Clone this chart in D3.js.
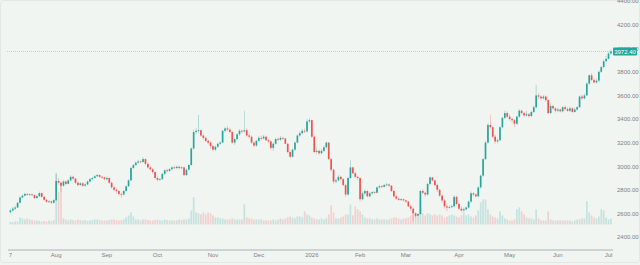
<!DOCTYPE html>
<html>
<head>
  <meta charset="UTF-8">
  <style>
    body { margin: 0; background: #f1f5f2; }
    svg { display: block; }
    text { font-family: "Liberation Sans", Arial, sans-serif; }
  </style>
</head>
<body>
<svg></svg>
<script src="https://d3js.org/d3.v7.min.js"></script>
<script>

    let width = 640;
    let height = 265;

    // daily candles, Jul 7 2025 .. Jul 2 2026 (open = previous close)
    let firstOpen = 2610;
    let closes = [
      2625, 2640, 2650, 2690, 2735, 2750, 2765, 2758, 2762, 2755,
      2730, 2745, 2772, 2740, 2715, 2698, 2702, 2690, 2712, 2875,
      2860, 2835, 2870, 2850, 2880, 2910, 2895, 2860, 2840, 2855,
      2835, 2845, 2870, 2890, 2900, 2915, 2925, 2910, 2905, 2890,
      2900, 2860, 2820, 2800, 2790, 2765, 2760, 2790, 2830, 2880,
      2985, 3010, 3030, 3040, 3035, 3060, 3020, 2990, 2975, 2950,
      2900, 2885, 2890, 2935, 2965, 2960, 2975, 2990, 2985, 2995,
      2985, 2990, 2925, 2970, 3010, 3150, 3290, 3300, 3305, 3260,
      3240, 3215, 3200, 3170, 3140, 3165, 3190, 3200, 3300, 3320,
      3310, 3290, 3200, 3230, 3270, 3300, 3295, 3305, 3260, 3250,
      3200, 3175, 3215, 3240, 3235, 3250, 3220, 3210, 3155, 3190,
      3230, 3225, 3240, 3235, 3190, 3120, 3080, 3140, 3200, 3260,
      3280, 3300, 3295, 3380, 3390, 3250, 3120, 3130, 3110, 3130,
      3160, 3200, 3060, 2970, 2870, 2880, 2910, 2890, 2840, 2760,
      2900, 2990, 2940, 2910, 2900, 2720, 2770, 2790, 2745, 2770,
      2780, 2775, 2820, 2830, 2825, 2840, 2845, 2835, 2790, 2745,
      2725, 2715, 2720, 2710, 2700, 2660, 2640, 2600, 2580, 2595,
      2790, 2775, 2760, 2850, 2905, 2880, 2840, 2800, 2750, 2710,
      2660, 2650, 2655, 2660, 2740, 2680, 2640, 2625, 2635, 2650,
      2700, 2770, 2760, 2745, 2820, 2920, 3060, 3200, 3350, 3330,
      3250, 3210, 3220, 3330, 3410, 3450, 3420, 3400, 3390, 3360,
      3420, 3470, 3450, 3430, 3440, 3425, 3460, 3500, 3600, 3590,
      3575, 3590, 3560, 3450, 3510, 3490, 3470, 3480, 3465, 3500,
      3485, 3470, 3490, 3460, 3480, 3500, 3590, 3575, 3600, 3700,
      3770, 3730, 3710, 3725, 3800, 3840, 3890, 3910, 3955, 3972.4
    ];
    let highs = [
      2640, 2655, 2665, 2700, 2745, 2760, 2775, 2772, 2770, 2768,
      2760, 2755, 2785, 2778, 2745, 2720, 2712, 2708, 2720, 2945,
      2900, 2870, 2885, 2880, 2890, 2925, 2920, 2900, 2870, 2865,
      2865, 2855, 2880, 2900, 2910, 2925, 2935, 2930, 2918, 2912,
      2915, 2905, 2870, 2830, 2810, 2795, 2775, 2800, 2840, 2890,
      2995, 3020, 3040, 3055, 3050, 3075, 3065, 3030, 3000, 2985,
      2960, 2915, 2900, 2945, 2975, 2980, 2985, 3000, 3005, 3005,
      3005, 3000, 2995, 2980, 3020, 3160, 3310, 3320, 3435, 3310,
      3270, 3250, 3225, 3210, 3180, 3175, 3200, 3210, 3310, 3330,
      3340, 3325, 3300, 3240, 3280, 3315, 3310, 3470, 3320, 3275,
      3260, 3210, 3225, 3255, 3260, 3265, 3260, 3230, 3220, 3200,
      3240, 3245, 3255, 3250, 3240, 3195, 3125, 3150, 3210, 3275,
      3295, 3315, 3320, 3400, 3410, 3395, 3260, 3160, 3140, 3145,
      3175, 3210, 3205, 3070, 2980, 2895, 2925, 2920, 2900, 2850,
      2910, 3050, 2995, 2950, 2920, 2905, 2785, 2805, 2800, 2780,
      2790, 2790, 2830, 2845, 2840, 2850, 2860, 2855, 2840, 2800,
      2750, 2735, 2730, 2725, 2715, 2705, 2670, 2650, 2610, 2605,
      2800, 2805, 2785, 2860, 2915, 2910, 2885, 2850, 2810, 2760,
      2720, 2680, 2670, 2675, 2755, 2750, 2690, 2660, 2650, 2660,
      2710, 2785, 2780, 2770, 2830, 2930, 3070, 3215, 3365, 3435,
      3340, 3265, 3235, 3340, 3420, 3470, 3465, 3440, 3410, 3400,
      3430, 3485, 3480, 3460, 3470, 3450, 3470, 3515, 3690, 3620,
      3600, 3605, 3600, 3570, 3525, 3520, 3500, 3495, 3490, 3510,
      3515, 3500, 3505, 3500, 3495, 3510, 3600, 3605, 3615, 3710,
      3780, 3790, 3745, 3740, 3810, 3850, 3905, 3935, 3970, 3990
    ];
    let lows = [
      2600, 2615, 2630, 2645, 2685, 2728, 2745, 2750, 2750, 2745,
      2722, 2725, 2740, 2735, 2705, 2690, 2690, 2680, 2685, 2705,
      2845, 2780, 2825, 2840, 2845, 2870, 2885, 2850, 2830, 2835,
      2825, 2825, 2840, 2862, 2885, 2895, 2908, 2900, 2895, 2880,
      2880, 2850, 2810, 2790, 2770, 2750, 2730, 2750, 2785, 2825,
      2875, 2975, 3000, 3020, 3025, 3030, 3010, 2980, 2960, 2940,
      2890, 2870, 2875, 2885, 2925, 2945, 2950, 2965, 2975, 2975,
      2975, 2970, 2915, 2915, 2965, 3005, 3140, 3270, 3280, 3250,
      3225, 3205, 3185, 3150, 3125, 3130, 3155, 3180, 3195, 3285,
      3295, 3280, 3190, 3180, 3220, 3260, 3280, 3285, 3250, 3235,
      3190, 3160, 3165, 3205, 3220, 3225, 3210, 3195, 3140, 3130,
      3180, 3215, 3215, 3225, 3185, 3110, 3070, 3075, 3130, 3195,
      3250, 3270, 3280, 3285, 3365, 3240, 3110, 3100, 3095, 3100,
      3120, 3150, 3050, 2955, 2850, 2855, 2870, 2880, 2830, 2740,
      2750, 2890, 2930, 2900, 2880, 2700, 2710, 2755, 2735, 2735,
      2760, 2765, 2770, 2810, 2815, 2820, 2830, 2825, 2780, 2735,
      2715, 2705, 2705, 2700, 2690, 2650, 2620, 2530, 2565, 2570,
      2585, 2765, 2740, 2750, 2840, 2870, 2830, 2780, 2740, 2690,
      2640, 2620, 2640, 2645, 2650, 2670, 2625, 2610, 2615, 2625,
      2640, 2690, 2745, 2735, 2740, 2810, 2910, 3050, 3190, 3310,
      3235, 3190, 3195, 3215, 3320, 3400, 3410, 3385, 3370, 3330,
      3350, 3410, 3440, 3415, 3420, 3410, 3415, 3450, 3490, 3570,
      3560, 3565, 3545, 3440, 3445, 3480, 3455, 3460, 3455, 3455,
      3470, 3460, 3460, 3450, 3455, 3470, 3495, 3565, 3565, 3595,
      3690, 3720, 3700, 3700, 3715, 3790, 3830, 3880, 3905, 3945
    ];
    let volumes = [
      5, 5, 6, 6, 14, 12, 10, 12, 10, 9,
      8, 8, 7, 6, 7, 6, 8, 7, 9, 100,
      64, 80, 12, 10, 8, 10, 9, 8, 10, 9,
      8, 9, 7, 8, 9, 10, 10, 9, 8, 8,
      8, 9, 10, 10, 9, 8, 9, 10, 14, 18,
      24, 16, 10, 10, 8, 10, 10, 9, 8, 8,
      9, 10, 8, 8, 10, 9, 8, 8, 8, 8,
      10, 9, 10, 10, 12, 28, 54, 24, 22, 20,
      24, 20, 24, 22, 18, 14, 14, 12, 12, 10,
      10, 10, 12, 10, 10, 10, 10, 40, 14, 12,
      12, 10, 10, 10, 10, 8, 8, 8, 8, 10,
      8, 10, 12, 10, 12, 14, 16, 14, 12, 16,
      16, 14, 26, 20, 18, 14, 12, 10, 10, 12,
      10, 12, 20, 38, 24, 12, 12, 14, 16, 20,
      20, 40, 18, 36, 30, 26, 20, 14, 12, 12,
      10, 10, 12, 10, 10, 10, 10, 10, 12, 14,
      14, 12, 10, 12, 12, 14, 18, 20, 18, 16,
      50, 22, 18, 22, 20, 18, 20, 18, 20, 18,
      14, 16, 18, 20, 18, 16, 14, 18, 24, 18,
      20, 16, 14, 18, 28, 44, 50, 50, 30, 20,
      16, 14, 12, 26, 18, 12, 10, 8, 8, 10,
      30, 34, 26, 20, 14, 12, 12, 10, 30, 12,
      8, 8, 8, 26, 10, 8, 8, 8, 8, 8,
      8, 8, 8, 6, 8, 10, 10, 12, 12, 46,
      24, 18, 14, 12, 16, 30, 28, 14, 10, 12
    ];
    let holidays = ["2025-09-01", "2025-11-27", "2025-12-25", "2026-01-01",
                    "2026-01-19", "2026-02-16", "2026-04-03", "2026-05-25", "2026-06-19"];
    let priceTicks = [2400, 2600, 2800, 3000, 3200, 3400, 3600, 3800, 4000, 4200, 4400];

    let upColor = "#26a69a";
    let downColor = "#ef5350";

    // trading calendar
    let fmt = d3.timeFormat("%Y-%m-%d");
    let dates = d3.timeDay.range(new Date(2025, 6, 7), new Date(2026, 7, 1))
      .filter(d => d.getDay() != 0 && d.getDay() != 6 && holidays.indexOf(fmt(d)) < 0)
      .slice(0, closes.length);

    let data = closes.map((c, i) => {
      let o = i == 0 ? firstOpen : closes[i - 1];
      return {
        i: i, date: dates[i], o: o, c: c,
        h: Math.max(highs[i], o, c),
        l: Math.min(lows[i], o, c),
        v: volumes[i]
      };
    });

    let svg = d3.select("svg")
        .attr("width", width)
        .attr("height", height);

    svg.append("rect")
      .attr("x", 0.5).attr("y", 0.5)
      .attr("width", width - 1).attr("height", height - 3)
      .attr("rx", 3)
      .attr("fill", "#f1f5f2")
      .attr("stroke", "#e3e8e4");

    let x = d3.scaleBand()
      .domain(data.map(d => d.i))
      .range([8.8, 612.5])
      .padding(0.3);

    let y = d3.scaleLinear()
      .domain([2400, 4400])
      .range([237, 1]);

    let yVol = d3.scaleLinear()
      .domain([0, 100])
      .range([224.5, 174]);

    // volume
    svg.append("g")
      .selectAll("rect")
      .data(data)
      .enter()
      .append("rect")
        .attr("x", d => x(d.i))
        .attr("width", x.bandwidth())
        .attr("y", d => yVol(d.v))
        .attr("height", d => yVol(0) - yVol(d.v))
        .attr("fill", d => d.c >= d.o ? upColor : downColor)
        .attr("opacity", 0.22);

    // last price line
    let last = data[data.length - 1];
    svg.append("line")
      .attr("x1", 7).attr("x2", 613)
      .attr("y1", y(last.c)).attr("y2", y(last.c))
      .attr("stroke", "#a9c9c2")
      .attr("stroke-width", 0.8)
      .attr("stroke-dasharray", "1,1");

    // candles
    let candle = svg.append("g")
      .selectAll("g")
      .data(data)
      .enter()
      .append("g");

    candle.append("line")
      .attr("x1", d => x(d.i) + x.bandwidth() / 2)
      .attr("x2", d => x(d.i) + x.bandwidth() / 2)
      .attr("y1", d => y(d.h))
      .attr("y2", d => y(d.l))
      .attr("stroke", d => d.c >= d.o ? upColor : downColor)
      .attr("stroke-width", 0.6)
      .attr("opacity", 0.55);

    candle.append("rect")
      .attr("x", d => x(d.i))
      .attr("width", x.bandwidth())
      .attr("y", d => y(Math.max(d.o, d.c)))
      .attr("height", d => Math.max(0.8, Math.abs(y(d.o) - y(d.c))))
      .attr("fill", d => d.c >= d.o ? upColor : downColor);

    // time axis
    let monthStarts = data.filter((d, i) => i == 0 || d.date.getMonth() != data[i - 1].date.getMonth());
    let xAxis = d3.axisBottom(x)
      .tickValues(monthStarts.map(d => d.i))
      .tickSize(0)
      .tickPadding(3)
      .tickFormat(i => {
        let dt = data[i].date;
        if (i == 0) return d3.timeFormat("%-d")(dt);
        if (dt.getMonth() == 0) return d3.timeFormat("%Y")(dt);
        return d3.timeFormat("%b")(dt);
      });

    let gx = svg.append("g")
      .attr("transform", "translate(0,250)")
      .call(xAxis);
    gx.select(".domain").remove();
    gx.selectAll("text").attr("fill", "#7b7f86").attr("font-size", 6);

    svg.append("line")
      .attr("x1", 8).attr("x2", 613)
      .attr("y1", 250).attr("y2", 250)
      .attr("stroke", "#9a9ea6")
      .attr("stroke-width", 0.8);

    // price axis
    let yAxis = d3.axisRight(y)
      .tickValues(priceTicks)
      .tickSize(0)
      .tickPadding(0)
      .tickFormat(d3.format(".2f"));

    let gy = svg.append("g")
      .attr("transform", "translate(617,0)")
      .call(yAxis);
    gy.select(".domain").remove();
    gy.selectAll("text").attr("fill", "#7b7f86").attr("font-size", 6);

    // last price tag
    svg.append("rect")
      .attr("x", 613).attr("y", y(last.c) - 4)
      .attr("width", 24).attr("height", 8)
      .attr("rx", 1)
      .attr("fill", upColor);
    svg.append("text")
      .attr("x", 625).attr("y", y(last.c) + 2.2)
      .attr("text-anchor", "middle")
      .attr("fill", "white")
      .attr("font-size", 6)
      .text(d3.format(".2f")(last.c));

</script>
</body>
</html>
